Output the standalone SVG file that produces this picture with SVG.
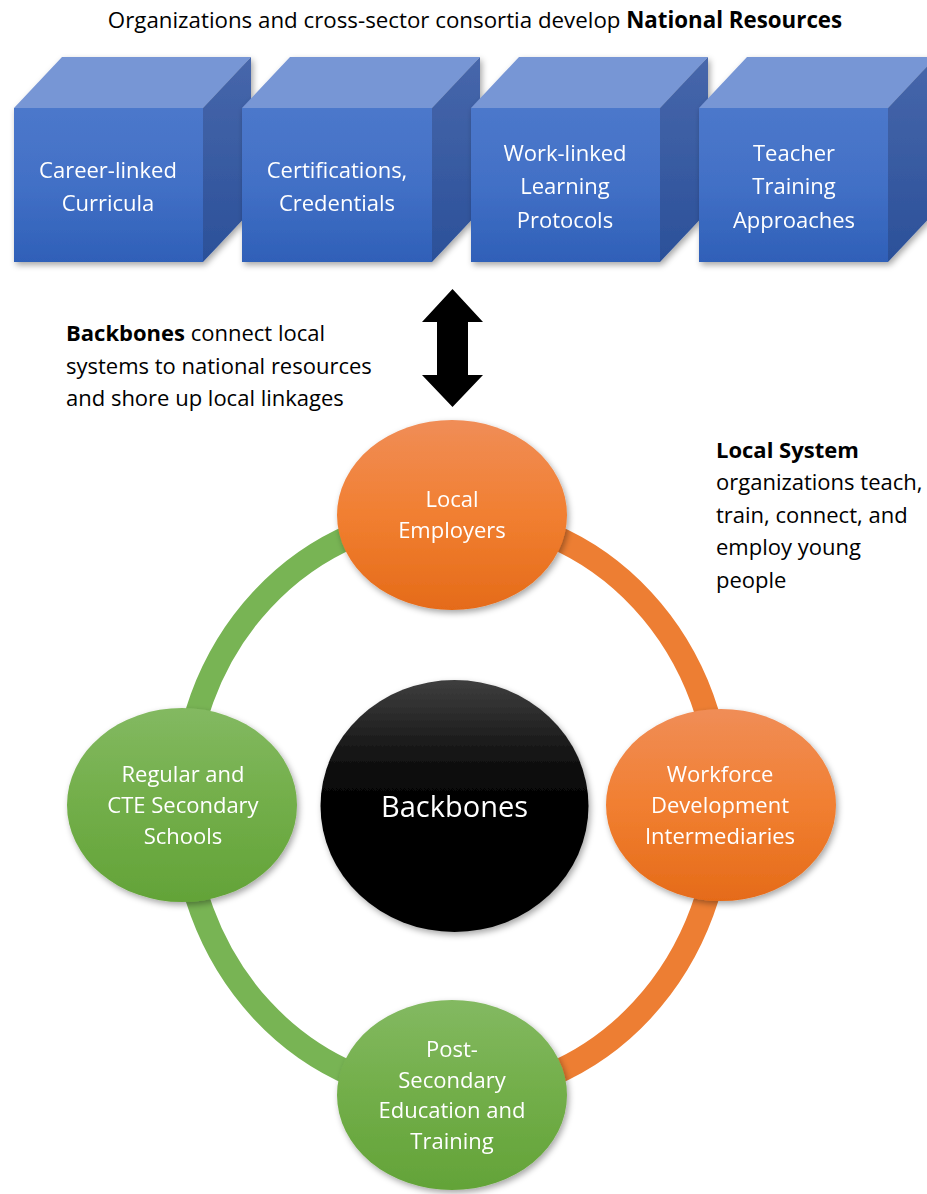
<svg xmlns="http://www.w3.org/2000/svg" width="927" height="1194" viewBox="0 0 927 1194">
<defs>
<linearGradient id="gFront" x1="0" y1="0" x2="0" y2="1"><stop offset="0" stop-color="#4C78CB"/><stop offset="0.5" stop-color="#4270C6"/><stop offset="1" stop-color="#2F60B8"/></linearGradient>
<linearGradient id="gSide" x1="0" y1="0" x2="0" y2="1"><stop offset="0" stop-color="#4767AB"/><stop offset="1" stop-color="#2B5099"/></linearGradient>
<linearGradient id="gOrange" x1="0" y1="0" x2="0" y2="1"><stop offset="0" stop-color="#F08D57"/><stop offset="0.5" stop-color="#F17F31"/><stop offset="1" stop-color="#E56B19"/></linearGradient>
<linearGradient id="gGreen" x1="0" y1="0" x2="0" y2="1"><stop offset="0" stop-color="#83B961"/><stop offset="0.5" stop-color="#72AE49"/><stop offset="1" stop-color="#63A338"/></linearGradient>
<linearGradient id="gBlack" x1="0" y1="0" x2="0" y2="1"><stop offset="0" stop-color="#3E3E3E"/><stop offset="0.15" stop-color="#2A2A2A"/><stop offset="0.3" stop-color="#141414"/><stop offset="0.45" stop-color="#050505"/><stop offset="0.55" stop-color="#000000"/><stop offset="1" stop-color="#000000"/></linearGradient>
<filter id="shadow" x="-20%" y="-20%" width="140%" height="140%"><feDropShadow dx="2" dy="3" stdDeviation="3" flood-color="#000" flood-opacity="0.35"/></filter>
</defs>
<style>
text{font-family:"Open Sans","Noto Sans","Liberation Sans",sans-serif;font-size:22px}
.w{fill:#ffffff;text-anchor:middle}
.k{fill:#000000}
.b{font-weight:bold}
.top{fill:#7796D5}
.front{fill:url(#gFront)}
.side{fill:url(#gSide)}
.ring{fill:none;stroke-width:24}
</style>
<rect width="927" height="1194" fill="#ffffff"/>
<text class="k" x="475" y="28" text-anchor="middle" style="font-size:22.3px">Organizations and cross-sector consortia develop <tspan class="b">National Resources</tspan></text>
<g id="cube1" filter="url(#shadow)">
<polygon class="top" points="14,108 203,108 251,57 62,57"/>
<polygon class="side" points="203,108 251,57 251,211 203,262"/>
<rect class="front" x="14" y="108" width="189" height="154"/>
<text class="w" x="108" y="178">Career-linked</text>
<text class="w" x="108" y="211">Curricula</text>
</g>
<g id="cube2" filter="url(#shadow)">
<polygon class="top" points="242,108 432,108 480,57 290,57"/>
<polygon class="side" points="432,108 480,57 480,211 432,262"/>
<rect class="front" x="242" y="108" width="190" height="154"/>
<text class="w" x="337" y="178">Certifications,</text>
<text class="w" x="337" y="211">Credentials</text>
</g>
<g id="cube3" filter="url(#shadow)">
<polygon class="top" points="471,108 660,108 708,57 519,57"/>
<polygon class="side" points="660,108 708,57 708,211 660,262"/>
<rect class="front" x="471" y="108" width="189" height="154"/>
<text class="w" x="565" y="161">Work-linked</text>
<text class="w" x="565" y="194">Learning</text>
<text class="w" x="565" y="228">Protocols</text>
</g>
<g id="cube4" filter="url(#shadow)">
<polygon class="top" points="699,108 888,108 936,57 747,57"/>
<polygon class="side" points="888,108 936,57 936,211 888,262"/>
<rect class="front" x="699" y="108" width="189" height="154"/>
<text class="w" x="794" y="161">Teacher</text>
<text class="w" x="794" y="194">Training</text>
<text class="w" x="794" y="228">Approaches</text>
</g>
<g id="connectors">
<path class="ring" stroke="#78B454" d="M452,515 A269,290 0 0 0 452,1095"/>
<path class="ring" stroke="#ED7E33" d="M452,515 A269,290 0 0 1 452,1095"/>
<polygon fill="#000000" points="452.5,289 483,322 468,322 468,375 483,375 452.5,407 422,375 437,375 437,322 422,322"/>
</g>
<g id="note-backbones">
<text class="k" x="66" y="341"><tspan class="b">Backbones</tspan> connect local</text>
<text class="k" x="66" y="374">systems to national resources</text>
<text class="k" x="66" y="406">and shore up local linkages</text>
</g>
<g id="note-local-system">
<text class="k b" x="716" y="458">Local System</text>
<text class="k" x="716" y="490">organizations teach,</text>
<text class="k" x="716" y="523">train, connect, and</text>
<text class="k" x="716" y="555">employ young</text>
<text class="k" x="716" y="588">people</text>
</g>
<g id="backbones" filter="url(#shadow)">
<ellipse cx="454.5" cy="806" rx="134" ry="126" fill="url(#gBlack)"/>
<text class="w" x="454.5" y="817" style="font-size:29px">Backbones</text>
</g>
<g id="local-employers" filter="url(#shadow)">
<ellipse cx="452" cy="515" rx="115" ry="95" fill="url(#gOrange)"/>
<text class="w" x="452" y="507">Local</text>
<text class="w" x="452" y="538">Employers</text>
</g>
<g id="secondary-schools" filter="url(#shadow)">
<ellipse cx="182" cy="805" rx="115" ry="97" fill="url(#gGreen)"/>
<text class="w" x="183" y="782">Regular and</text>
<text class="w" x="183" y="813">CTE Secondary</text>
<text class="w" x="183" y="844">Schools</text>
</g>
<g id="workforce" filter="url(#shadow)">
<ellipse cx="721" cy="805" rx="115" ry="96" fill="url(#gOrange)"/>
<text class="w" x="720" y="782">Workforce</text>
<text class="w" x="720" y="813">Development</text>
<text class="w" x="720" y="844">Intermediaries</text>
</g>
<g id="post-secondary" filter="url(#shadow)">
<ellipse cx="452" cy="1095" rx="115" ry="95" fill="url(#gGreen)"/>
<text class="w" x="452" y="1057">Post-</text>
<text class="w" x="452" y="1088">Secondary</text>
<text class="w" x="452" y="1118">Education and</text>
<text class="w" x="452" y="1149">Training</text>
</g>
</svg>
